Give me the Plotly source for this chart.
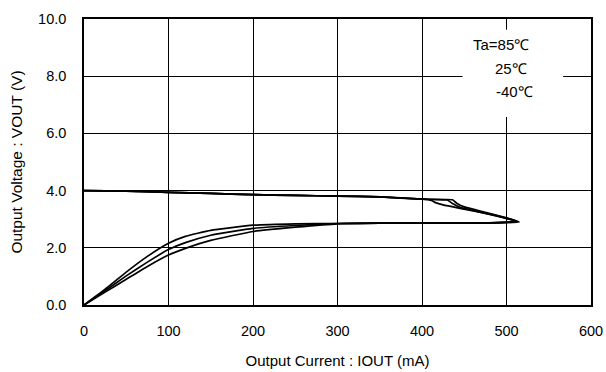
import plotly.graph_objects as go

# Output current (mA) / output voltage (V) paths for each ambient temperature
iout_85 = [0, 50, 100, 150, 200, 250, 300, 350, 400, 411, 416, 425, 445, 470, 495, 515,
           480, 420, 350, 300, 250, 200, 150, 120, 100, 75, 50, 25, 0]
vout_85 = [4.0, 3.98, 3.94, 3.9, 3.86, 3.83, 3.81, 3.78, 3.7, 3.66, 3.58, 3.5, 3.38, 3.24, 3.08, 2.9,
           2.87, 2.86, 2.86, 2.85, 2.84, 2.79, 2.61, 2.4, 2.16, 1.7, 1.15, 0.55, 0.0]

iout_25 = [0, 50, 100, 150, 200, 250, 300, 350, 400, 430, 436, 445, 470, 495, 513,
           480, 420, 350, 300, 250, 200, 150, 120, 100, 75, 50, 25, 0]
vout_25 = [4.0, 3.98, 3.94, 3.9, 3.86, 3.83, 3.81, 3.78, 3.7, 3.67, 3.55, 3.42, 3.24, 3.06, 2.92,
           2.87, 2.86, 2.86, 2.85, 2.78, 2.68, 2.44, 2.18, 1.94, 1.5, 1.02, 0.5, 0.0]

iout_m40 = [0, 50, 100, 150, 200, 250, 300, 350, 400, 436, 441, 450, 475, 500, 512,
            480, 420, 350, 300, 250, 200, 150, 120, 100, 75, 50, 25, 0]
vout_m40 = [4.0, 3.98, 3.94, 3.9, 3.86, 3.83, 3.81, 3.78, 3.7, 3.68, 3.56, 3.43, 3.24, 3.04, 2.93,
            2.87, 2.86, 2.86, 2.84, 2.72, 2.57, 2.26, 1.98, 1.75, 1.35, 0.9, 0.45, 0.0]

x_ticks = [0, 100, 200, 300, 400, 500, 600]
y_ticks = [0, 2, 4, 6, 8, 10]
y_tick_labels = ["0.0", "2.0", "4.0", "6.0", "8.0", "10.0"]
legend_lines = ["Ta=85℃", "25℃", "-40℃"]

fig = go.Figure()
for xs, ys in [(iout_85, vout_85), (iout_25, vout_25), (iout_m40, vout_m40)]:
    fig.add_trace(go.Scatter(x=xs, y=ys, mode="lines",
                             line=dict(color="black", width=1.7, shape="spline", smoothing=0.4),
                             showlegend=False, hoverinfo="skip"))

# legend box (white patch over grid)
fig.add_shape(type="rect", x0=448, x1=567, y0=6.57, y1=9.62, xref="x", yref="y",
              fillcolor="white", line=dict(width=0), layer="between")

FONT = "Liberation Sans, Arial, sans-serif"
font = dict(family=FONT, size=15, color="black")
fig.add_annotation(x=458, y=9.11, xref="x", yref="y", text=legend_lines[0], showarrow=False,
                   xanchor="left", font=font)
fig.add_annotation(x=484, y=8.26, xref="x", yref="y", text=legend_lines[1], showarrow=False,
                   xanchor="left", font=font)
fig.add_annotation(x=485, y=7.47, xref="x", yref="y", text=legend_lines[2], showarrow=False,
                   xanchor="left", font=font)

fig.update_layout(
    width=606, height=372,
    margin=dict(l=84, r=15, t=19, b=67),
    paper_bgcolor="white", plot_bgcolor="white",
    font=dict(family=FONT, size=14.5, color="black"),
    xaxis=dict(range=[0, 600], tickvals=x_ticks, showgrid=True, gridcolor="black", gridwidth=1.3,
               showline=True, linecolor="black", linewidth=1.6, mirror=True, zeroline=False,
               ticks="", ticklabelstandoff=12, automargin=False, ticklabeloverflow="allow",
               title=dict(text="Output Current : IOUT (mA)", standoff=17,
                          font=dict(size=15))),
    yaxis=dict(range=[0, 10], tickvals=y_ticks, ticktext=y_tick_labels, showgrid=True,
               gridcolor="black", gridwidth=1.3,
               showline=True, linecolor="black", linewidth=1.6, mirror=True, zeroline=False,
               ticks="", ticklabelstandoff=13, automargin=False, ticklabeloverflow="allow",
               title=dict(text="Output Voltage : VOUT (V)", standoff=12,
                          font=dict(size=15.5))),
)

fig.write_html("out.html",
               config={"displayModeBar": False},
               post_script="document.body.style.margin='0';document.body.style.overflow='hidden';")
